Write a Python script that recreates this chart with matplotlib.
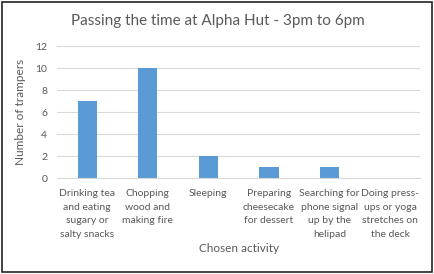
import matplotlib
matplotlib.use("Agg")
import matplotlib.pyplot as plt
from matplotlib.patches import Rectangle

categories = [
    "Drinking tea\nand eating\nsugary or\nsalty snacks",
    "Chopping\nwood and\nmaking fire",
    "Sleeping",
    "Preparing\ncheesecake\nfor dessert",
    "Searching for\nphone signal\nup by the\nhelipad",
    "Doing press-\nups or yoga\nstretches on\nthe deck",
]
values = [7, 10, 2, 1, 1, 0]
yticks = [0, 2, 4, 6, 8, 10, 12]

plt.rcParams['font.family'] = ['Lato', 'DejaVu Sans']
text_color = "#595959"

fig = plt.figure(figsize=(4.35, 2.74), dpi=100)
ax = fig.add_axes([0.131, 0.350, 0.835, 0.482])

x = list(range(len(categories)))
ax.bar(x, values, width=0.32, color="#5b9bd5", zorder=3)
ax.set_ylim(0, 12)
ax.set_xlim(-0.5, len(categories) - 0.5)
ax.set_yticks(yticks)
ax.set_yticklabels([str(t) for t in yticks], fontsize=7.5, color=text_color)
ax.set_xticks(x)
ax.set_xticklabels(categories, fontsize=7.5, color=text_color, linespacing=1.65)
ax.tick_params(axis='x', length=0, pad=8)
ax.tick_params(axis='y', length=0, pad=7)
ax.grid(axis='y', color="#d9d9d9", linewidth=0.8, zorder=0)
for s in ['top', 'right', 'left']:
    ax.spines[s].set_visible(False)
ax.spines['bottom'].set_color("#d9d9d9")
ax.set_ylabel("Number of trampers", fontsize=8.5, color=text_color, labelpad=7)
ax.set_xlabel("Chosen activity", fontsize=8.5, color=text_color, labelpad=3)
fig.text(0.5, 0.925, "Passing the time at Alpha Hut - 3pm to 6pm", ha='center', va='center',
         fontsize=11, color=text_color)

fig.patches.append(Rectangle((0.004, 0.006), 0.988, 0.988, transform=fig.transFigure,
                             fill=False, edgecolor="#222222", linewidth=1.2))

fig.savefig("out.png", dpi=100)
